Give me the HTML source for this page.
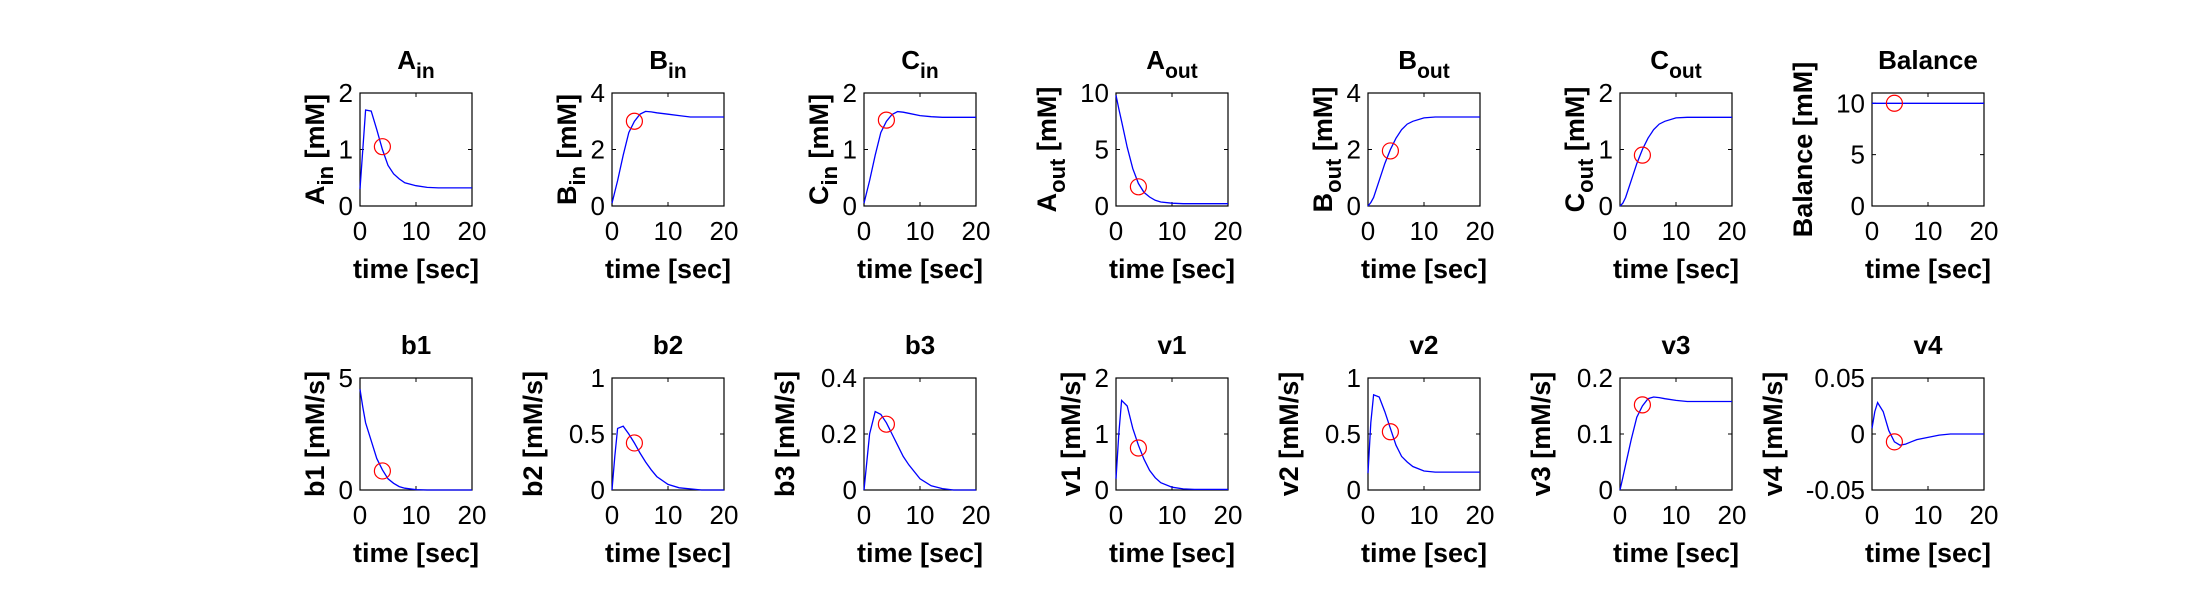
<!DOCTYPE html>
<html><head><meta charset="utf-8"><style>
html,body{margin:0;padding:0;background:#fff;}
svg{display:block;font-family:"Liberation Sans",Arial,sans-serif;}
</style></head><body>
<svg id="chart" width="2200" height="600" viewBox="0 0 2200 600" xmlns="http://www.w3.org/2000/svg"></svg>
<script>
const times = [0,0.5,1,2,3,4,5,6,7,8,10,12,14,16,18,20];
const titleMain = ["A","B","C","A","B","C","Balance","b1","b2","b3","v1","v2","v3","v4"];
const titleSub = ["in","in","in","out","out","out","","","","","","","",""];
const yUnits = ["[mM]","[mM]","[mM]","[mM]","[mM]","[mM]","[mM]","[mM/s]","[mM/s]","[mM/s]","[mM/s]","[mM/s]","[mM/s]","[mM/s]"];
const yMin = [0,0,0,0,0,0,0,0,0,0,0,0,0,-0.05];
const yMax = [2,4,2,10,4,2,11,5,1,0.4,2,1,0.2,0.05];
const yTicks = [[0,1,2],[0,2,4],[0,1,2],[0,5,10],[0,2,4],[0,1,2],[0,5,10],[0,5],[0,0.5,1],[0,0.2,0.4],[0,1,2],[0,0.5,1],[0,0.1,0.2],[-0.05,0,0.05]];
const xTicks = [0,10,20];
const sAin  = [0.3,1.0,1.7,1.68,1.35,1.0,0.72,0.57,0.48,0.41,0.36,0.33,0.32,0.32,0.32,0.32];
const sBin  = [0.1,0.5,0.9,1.8,2.6,3.0,3.25,3.35,3.33,3.3,3.25,3.2,3.15,3.15,3.15,3.15];
const sCin  = [0.05,0.25,0.45,0.9,1.3,1.5,1.62,1.67,1.66,1.64,1.6,1.58,1.57,1.57,1.57,1.57];
const sAout = [9.8,8.6,7.5,5.2,3.3,2.0,1.2,0.8,0.5,0.35,0.25,0.2,0.2,0.2,0.2,0.2];
const sBout = [0,0.12,0.3,0.9,1.5,2.0,2.4,2.7,2.9,3.0,3.12,3.15,3.15,3.15,3.15,3.15];
const sCout = [0,0.05,0.15,0.45,0.75,1.0,1.2,1.35,1.45,1.5,1.56,1.57,1.57,1.57,1.57,1.57];
const sBal  = [10,10,10,10,10,10,10,10,10,10,10,10,10,10,10,10];
const sb1   = [4.5,3.7,3.0,2.2,1.4,0.9,0.5,0.3,0.15,0.08,0.02,0,0,0,0,0];
const sb2   = [0,0.3,0.55,0.57,0.5,0.42,0.33,0.25,0.18,0.12,0.05,0.02,0.01,0,0,0];
const sb3   = [0,0.1,0.2,0.28,0.27,0.24,0.2,0.16,0.12,0.09,0.04,0.015,0.005,0,0,0];
const sv1   = [0.2,1.0,1.6,1.5,1.1,0.8,0.55,0.35,0.22,0.13,0.05,0.02,0.01,0.01,0.01,0.01];
const sv2   = [0.15,0.6,0.85,0.83,0.7,0.55,0.4,0.3,0.25,0.21,0.17,0.16,0.16,0.16,0.16,0.16];
const sv3   = [0,0.022,0.045,0.09,0.13,0.15,0.163,0.166,0.165,0.163,0.16,0.158,0.158,0.158,0.158,0.158];
const sv4   = [0.005,0.02,0.028,0.02,0.003,-0.007,-0.01,-0.009,-0.007,-0.005,-0.003,-0.001,0,0,0,0];
const series = [sAin,sBin,sCin,sAout,sBout,sCout,sBal,sb1,sb2,sb3,sv1,sv2,sv3,sv4];
const markerT = 4;
const markerY = [1.05,3.0,1.52,1.7,1.95,0.9,10,0.85,0.42,0.235,0.75,0.52,0.152,-0.007];

const svg = document.getElementById('chart');
const NS = 'http://www.w3.org/2000/svg';
function mk(tag, attrs, parent){const e=document.createElementNS(NS,tag);for(const k in attrs)e.setAttribute(k,attrs[k]);parent.appendChild(e);return e;}
function fmt(v){return String(v);}

for(let i=0;i<14;i++){
  const col=i%7,row=Math.floor(i/7);
  const L=360+col*252,W=112,T=row?378:93,H=row?112:113;
  const xs=t=>L+t/20*W;
  const ys=v=>T+H-(v-yMin[i])/(yMax[i]-yMin[i])*H;
  const g=mk('g',{},svg);
  
  
  const box=mk('rect',{x:L,y:T,width:W,height:H,fill:'#fff',stroke:'#000','stroke-width':1.2},g);
  
  
  xTicks.forEach(t=>{
    const x=xs(t);
    mk('line',{x1:x,y1:T+H,x2:x,y2:T+H-4,stroke:'#000'},g);
    mk('line',{x1:x,y1:T,x2:x,y2:T+4,stroke:'#000'},g);
    const tx=mk('text',{x:x,y:T+H+34,'font-size':26,'text-anchor':'middle'},g);
    tx.textContent=fmt(t);
    
    
  });
  let maxLen=1;
  yTicks[i].forEach(v=>{
    const y=ys(v);
    maxLen=Math.max(maxLen,fmt(v).length);
    mk('line',{x1:L,y1:y,x2:L+4,y2:y,stroke:'#000'},g);
    mk('line',{x1:L+W,y1:y,x2:L+W-4,y2:y,stroke:'#000'},g);
    const tx=mk('text',{x:L-7,y:y+9,'font-size':26,'text-anchor':'end'},g);
    tx.textContent=fmt(v);
    
    
  });
  const pts=times.map((t,k)=>xs(t).toFixed(1)+','+ys(series[i][k]).toFixed(1)).join(' ');
  const pl=mk('polyline',{points:pts,fill:'none',stroke:'#0000ff','stroke-width':1.3},g);
  
  
  const c=mk('ellipse',{cx:xs(markerT),cy:ys(markerY[i]),rx:8,ry:8,fill:'none',stroke:'#ff0000','stroke-width':1.2},g);
  
  
  const tt=mk('text',{x:L+W/2,y:T-24,'font-size':26,'font-weight':'bold','text-anchor':'middle'},g);
  
  
  tt.appendChild(document.createTextNode(titleMain[i]));
  if(titleSub[i]){const s=mk('tspan',{dy:9,'font-size':21},tt);s.textContent=titleSub[i];}
  const xl=mk('text',{x:L+W/2,y:T+H+72,'font-size':27,'font-weight':'bold','text-anchor':'middle'},g);
  xl.textContent='time [sec]';
  
  
  const off = maxLen<=1?36:(maxLen==2?60:(maxLen==3?70:90));
  const lx=L-off;
  const yl=mk('text',{x:0,y:0,'font-size':27,'font-weight':'bold','text-anchor':'middle',transform:'translate('+lx+','+(T+H/2)+') rotate(-90)'},g);
  
  
  yl.appendChild(document.createTextNode(titleMain[i]));
  if(titleSub[i]){const s=mk('tspan',{dy:9,'font-size':22},yl);s.textContent=titleSub[i];const s2=mk('tspan',{dy:-9},yl);s2.textContent=' '+yUnits[i];}
  else yl.appendChild(document.createTextNode(' '+yUnits[i]));
}
</script>
</body></html>
